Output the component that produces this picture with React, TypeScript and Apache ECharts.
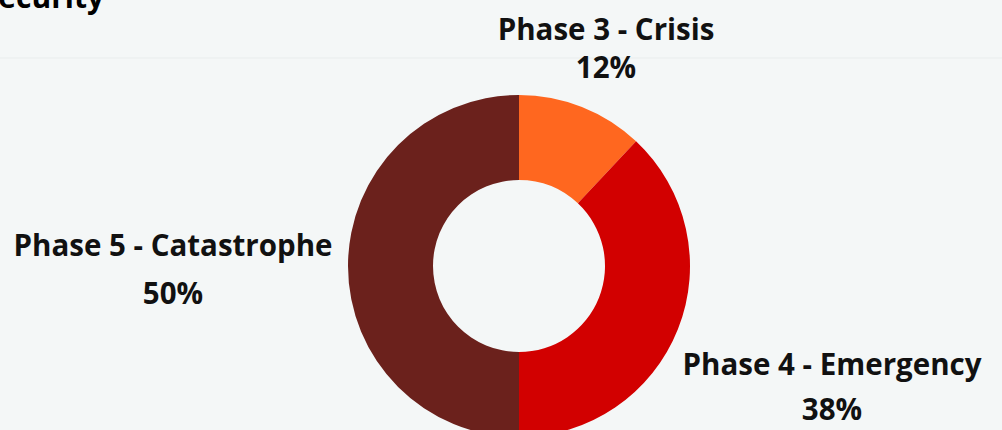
import React, { useEffect, useRef } from "react";
import * as echarts from "echarts";

const categories = ["Phase 3 - Crisis", "Phase 4 - Emergency", "Phase 5 - Catastrophe"];
const values = [12, 38, 50];
const colors = ["#ff671f", "#d20000", "#6b211c"];
const titleText = "Food Insecurity";

// label layout (positions only, not data): x, y (block middle), line height
const labelPos: [number, number, number][] = [
  [606, 47, 38],
  [832, 386, 45],
  [173, 268, 48],
];

export default function App() {
  const ref = useRef<HTMLDivElement>(null);
  useEffect(() => {
    if (!ref.current) return;
    const chart = echarts.init(ref.current, undefined, { renderer: "svg" });
    const font = "'Open Sans', 'Noto Sans', sans-serif";
    chart.setOption({
      animation: false,
      backgroundColor: "#f4f7f7",
      graphic: [
        {
          type: "line",
          shape: { x1: 0, y1: 58, x2: 1002, y2: 58 },
          style: { stroke: "#e9eded", lineWidth: 1 },
          silent: true,
        },
        {
          type: "text",
          x: 104,
          y: -4,
          style: {
            text: titleText,
            fill: "#000",
            font: `700 30px ${font}`,
            align: "right",
            verticalAlign: "middle",
          },
          silent: true,
        },
      ],
      series: [
        {
          type: "pie",
          center: [519, 266],
          radius: [86, 171],
          startAngle: 90,
          clockwise: true,
          silent: true,
          emphasis: { disabled: true },
          labelLine: { show: false },
          label: {
            show: true,
            position: "outside",
            formatter: "{b}\n{c}%",
            color: "#111",
            fontFamily: font,
            fontWeight: 700,
            fontSize: 29.5,
            overflow: "none",
            width: 400,
            align: "center",
          },
          labelLayout: (params: any) => {
            const p = labelPos[params.dataIndex];
            return { x: p[0], y: p[1], align: "center", verticalAlign: "middle" };
          },
          data: categories.map((c, i) => ({
            name: c,
            value: values[i],
            itemStyle: { color: colors[i] },
            label: { lineHeight: labelPos[i][2] },
          })),
        },
      ],
    });
    return () => chart.dispose();
  }, []);
  return (
    <div
      ref={ref}
      style={{ position: "fixed", left: 0, top: 0, width: 1002, height: 430 }}
    />
  );
}
